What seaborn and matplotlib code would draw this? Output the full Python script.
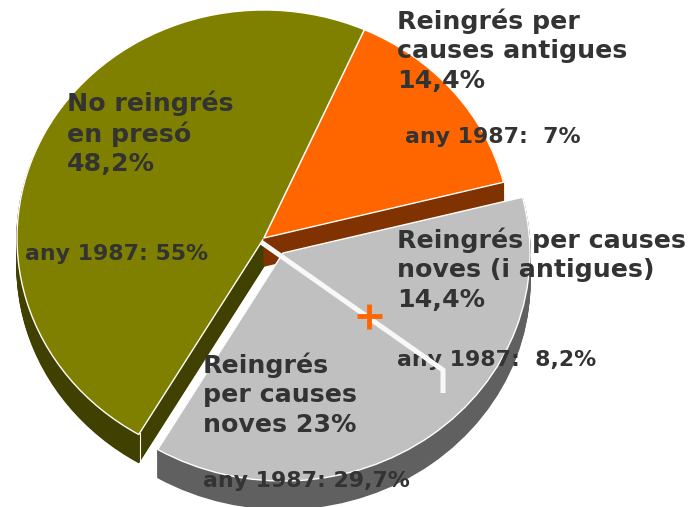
# Pie with fake 3D walls: reingres a preso
import matplotlib
matplotlib.use('Agg')
import seaborn as sns
import matplotlib.pyplot as plt

categories = ['No reingrés', 'Reingrés per causes noves',
              'Reingrés per causes noves (i antigues)', 'Reingrés per causes antigues']
values_now = [48.2, 23, 14.4, 14.4]
values_1987 = [55, 29.7, 8.2, 7]

# gray slice is the two "noves" groups pulled out together
slices = [values_now[0], values_now[1] + values_now[2], values_now[3]]
top_colors = ['#808000', '#C0C0C0', '#FF6600']
wall_colors = ['#404000', '#606060', '#803300']

W, H = 689, 507
cx, cy = 264, 238
rx, ry = 247, 228
depth = 28 / ry
layers = 28
start = 66

sns.set_theme(style='white')
plt.rcParams['font.family'] = ['DejaVu Sans']
text_color = '#333333'

fig = plt.figure(figsize=(W / 100, H / 100), dpi=100)
ax = fig.add_axes([0, 0, 1, 1])


def to_data(px, py):
    return (px - cx) / rx, (cy - py) / ry


centers = [(0, 0), to_data(283, 253), (0, 0)]
order = [0, 2, 1]
angles = [start]
for v in slices:
    angles.append(angles[-1] + v * 3.6)

for i in order:
    c = centers[i]
    for k in range(layers, 0, -1):
        ax.pie([slices[i] / 100], normalize=False, startangle=angles[i], radius=1,
               center=(c[0], c[1] - depth * k / layers), colors=[wall_colors[i]],
               wedgeprops={'edgecolor': wall_colors[i], 'linewidth': 1})
    ax.pie([slices[i] / 100], normalize=False, startangle=angles[i], radius=1,
           center=c, colors=[top_colors[i]],
           wedgeprops={'edgecolor': 'white', 'linewidth': 1})

ax.set_aspect('auto')
ax.set_xlim((0 - cx) / rx, (W - cx) / rx)
ax.set_ylim((cy - H) / ry, cy / ry)

# thin white corner on the olive wall
corner = to_data(140, 433)
ax.plot([corner[0], corner[0]], [corner[1], corner[1] - depth], color='white', lw=0.8)


def label(px, py, txt, size):
    x, y = to_data(px, py)
    ax.text(x, y, txt, fontsize=size, fontweight='bold', color=text_color,
            va='top', ha='left', linespacing=1.29, zorder=10)


label(397, 8, 'Reingrés per\ncauses antigues\n14,4%', 18.2)
label(405, 127, 'any 1987:  %g%%' % values_1987[3], 15.8)
label(67, 90, 'No reingrés\nen presó\n48,2%', 18.2)
label(25, 244, 'any 1987: %g%%' % values_1987[0], 15.8)
label(397, 227, 'Reingrés per causes\nnoves (i antigues)\n14,4%', 18.2)
label(397, 350, 'any 1987:  8,2%', 15.8)
label(203, 352, 'Reingrés\nper causes\nnoves 23%', 18.2)
label(203, 471, 'any 1987: 29,7%', 15.8)

# leader line and plus sit above the text
lx, ly = zip(*[to_data(261, 242), to_data(443, 370), to_data(443, 393)])
ax.plot(lx, ly, color='#F8F8F8', lw=3.6, solid_joinstyle='miter', solid_capstyle='butt', zorder=20)
plus = to_data(369, 316)
ax.plot([plus[0]], [plus[1]], marker='+', ms=18, mew=3.5, color='#FF6600', zorder=21)

fig.savefig('out.png', dpi=100, facecolor='white')
